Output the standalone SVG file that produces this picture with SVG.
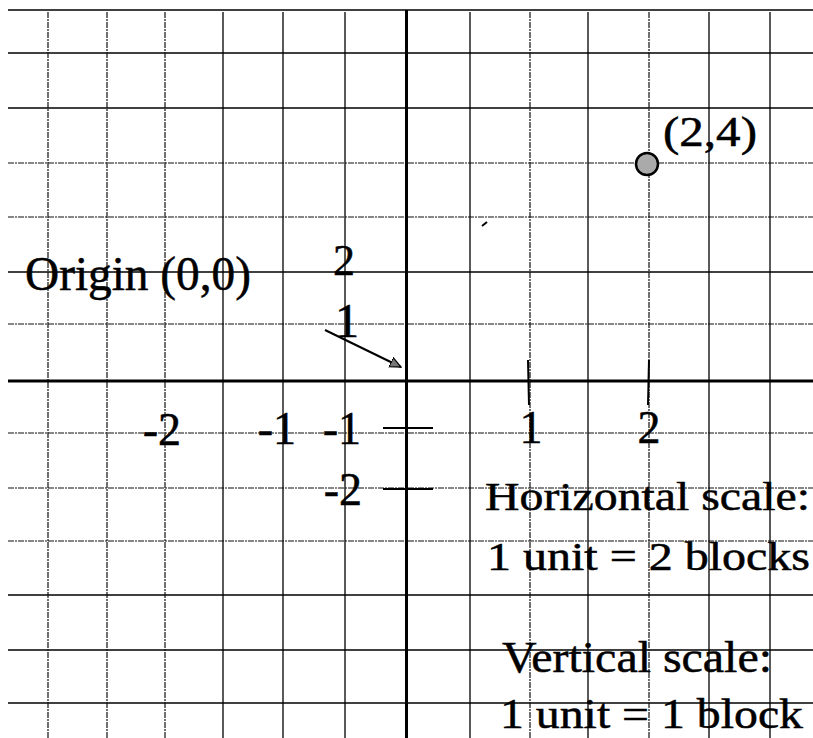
<svg xmlns="http://www.w3.org/2000/svg" width="813" height="738" viewBox="0 0 813 738">
<style>
.g{stroke:#000;stroke-width:1.3;fill:none}
.d{stroke:#111;stroke-width:1.2;stroke-dasharray:6 1 2 1;fill:none}
.ax{stroke:#000;stroke-width:3;fill:none}
.tk{stroke:#000;stroke-width:2;fill:none}
text{font-family:"Liberation Serif","Times New Roman",serif;fill:#000;stroke:#000;stroke-width:0.5}
</style>
<defs>
<marker id="ah" viewBox="0 0 12 12" refX="11" refY="6" markerWidth="12" markerHeight="12" markerUnits="userSpaceOnUse" orient="auto">
<path d="M0,1 L11,6 L0,11 Z" fill="#777" stroke="#000" stroke-width="1.2"/>
</marker>
</defs>
<rect width="813" height="738" fill="#fff"/>
<g id="grid">
<line class="g" x1="8" y1="10" x2="813" y2="10"/>
<line class="g" x1="8" y1="53" x2="813" y2="53"/>
<line class="g" x1="8" y1="108" x2="813" y2="108"/>
<line class="d" x1="8" y1="163" x2="813" y2="163"/>
<line class="d" x1="8" y1="217" x2="813" y2="217"/>
<line class="g" x1="8" y1="272" x2="813" y2="272"/>
<line class="d" x1="8" y1="324" x2="813" y2="324"/>
<line class="d" x1="8" y1="433" x2="813" y2="433"/>
<line class="d" x1="8" y1="488" x2="813" y2="488"/>
<line class="d" x1="8" y1="541" x2="813" y2="541"/>
<line class="g" x1="8" y1="595" x2="813" y2="595"/>
<line class="g" x1="8" y1="650" x2="813" y2="650"/>
<line class="g" x1="8" y1="703" x2="813" y2="703"/>
<line class="d" x1="48" y1="12" x2="48" y2="738"/>
<line class="d" x1="107" y1="12" x2="107" y2="738"/>
<line class="d" x1="165" y1="12" x2="165" y2="738"/>
<line class="g" x1="223" y1="12" x2="223" y2="738"/>
<line class="g" x1="283" y1="12" x2="283" y2="738"/>
<line class="g" x1="345" y1="12" x2="345" y2="738"/>
<line class="g" x1="470" y1="12" x2="470" y2="738"/>
<line class="d" x1="530" y1="12" x2="530" y2="738"/>
<line class="g" x1="588" y1="12" x2="588" y2="738"/>
<line class="d" x1="649" y1="12" x2="649" y2="738"/>
<line class="g" x1="709" y1="12" x2="709" y2="738"/>
<line class="g" x1="770" y1="12" x2="770" y2="738"/>
<line class="tk" x1="482" y1="226" x2="487" y2="222"/>
</g>
<g id="axes">
<line class="ax" x1="8" y1="381" x2="813" y2="381"/>
<line class="ax" x1="406.5" y1="10" x2="406.5" y2="738"/>
<line class="tk" x1="528" y1="360" x2="529" y2="405"/>
<line class="tk" x1="649" y1="360" x2="648" y2="405"/>
<line class="tk" x1="383" y1="428" x2="433" y2="428"/>
<line class="tk" x1="383" y1="489" x2="433" y2="489"/>
</g>
<g id="point-2-4">
<circle cx="647" cy="164" r="11" fill="#aaa" stroke="#000" stroke-width="2.5"/>
<text x="663" y="146" font-size="42" textLength="94" lengthAdjust="spacingAndGlyphs">(2,4)</text>
</g>
<g id="origin-label">
<text x="25" y="290" font-size="48" textLength="226" lengthAdjust="spacingAndGlyphs">Origin (0,0)</text>
</g>
<g id="y-label-2"><text x="344" y="275" font-size="44" text-anchor="middle">2</text></g>
<g id="y-label-1"><text x="347" y="337" font-size="48" text-anchor="middle">1</text></g>
<g id="x-label-m2"><text x="181" y="445" font-size="46" text-anchor="end">-2</text></g>
<g id="x-label-m1"><text x="296" y="444" font-size="46" text-anchor="end">-1</text></g>
<g id="y-label-m1"><text x="361" y="444" font-size="46" text-anchor="end">-1</text></g>
<g id="y-label-m2"><text x="362" y="505" font-size="46" text-anchor="end">-2</text></g>
<g id="x-label-1"><text x="531" y="443" font-size="46" text-anchor="middle">1</text></g>
<g id="x-label-2"><text x="649" y="443" font-size="46" text-anchor="middle">2</text></g>
<g id="h-scale">
<text x="485" y="510" font-size="39" textLength="325" lengthAdjust="spacingAndGlyphs">Horizontal scale:</text>
<text x="487" y="570" font-size="39" textLength="323" lengthAdjust="spacingAndGlyphs">1 unit = 2 blocks</text>
</g>
<g id="v-scale">
<text x="502" y="672" font-size="44" textLength="270" lengthAdjust="spacingAndGlyphs">Vertical scale:</text>
<text x="500" y="728" font-size="42" textLength="303" lengthAdjust="spacingAndGlyphs">1 unit = 1 block</text>
</g>
<g id="connectors">
<line x1="325" y1="330" x2="401" y2="367" stroke="#000" stroke-width="2" marker-end="url(#ah)"/>
</g>
</svg>
